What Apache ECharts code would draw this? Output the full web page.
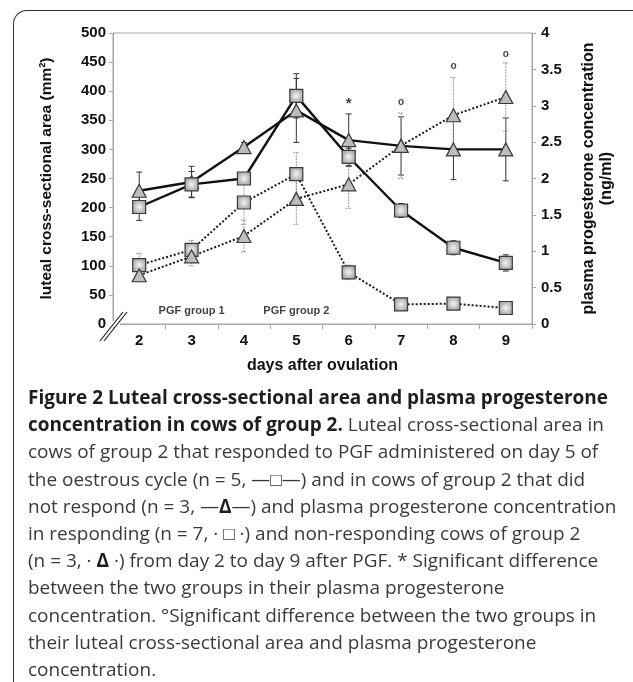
<!DOCTYPE html>
<html><head><meta charset="utf-8">
<script src="https://cdn.jsdelivr.net/npm/echarts@6.0.0/dist/echarts.min.js"></script>
<style>
html,body{margin:0;padding:0;background:#fff;width:633px;height:682px;overflow:hidden;position:relative;}
#frame{position:absolute;left:13px;top:10px;width:700px;height:690px;border-left:1.6px solid #333;border-top:1.6px solid #333;border-top-left-radius:14px;box-sizing:border-box;}
#chart{position:absolute;left:0;top:0;width:633px;height:390px;}
#cap{position:absolute;left:28px;top:384px;font-family:'Open Sans';font-size:17px;line-height:27.2px;color:#3a3a3a;white-space:nowrap;}
#cap b{color:#1e1e1e;font-weight:700;}
</style></head>
<body>
<div id="frame"></div>
<div id="chart"></div>
<div id="cap"><b>Figure 2 Luteal cross-sectional area and plasma progesterone</b><br>
<b>concentration in cows of group 2.</b> Luteal cross-sectional area in<br>
cows of group 2 that responded to PGF administered on day 5 of<br>
the oestrous cycle (n = 5, —□—) and in cows of group 2 that did<br>
<span id="ref">not respond (n = 3, —<b>Δ</b>—) and plasma progesterone concentration</span><br>
in responding (n = 7, · □ ·) and non-responding cows of group 2<br>
(n = 3, · <b>Δ</b> ·) from day 2 to day 9 after PGF. * Significant difference<br>
between the two groups in their plasma progesterone<br>
concentration. °Significant difference between the two groups in<br>
their luteal cross-sectional area and plasma progesterone<br>
concentration.</div>
<script>
// ---- data ----
const days = ['2', '3', '4', '5', '6', '7', '8', '9'];
const areaResp = [201, 240, 250, 392, 287, 195, 131, 105];
const areaRespErr = [23, 22, 8, 38, 15, 12, 12, 14];
const areaNonResp = [229, 244, 304, 367, 316, 306, 300, 300];
const areaNonRespErr = [32, 27, 8, 55, 45, 50, 52, 54];
const p4Resp = [0.81, 1.02, 1.67, 2.06, 0.71, 0.27, 0.28, 0.22];
const p4RespErr = [0.16, 0.13, 0.30, 0.30, 0.10, 0.03, 0.04, 0.03];
const p4NonResp = [0.67, 0.93, 1.21, 1.72, 1.92, 2.45, 2.87, 3.12];
const p4NonRespErr = [0.09, 0.13, 0.22, 0.35, 0.33, 0.45, 0.52, 0.47];
const leftTicks = {min: 0, max: 500, interval: 50};
const rightTicks = {min: 0, max: 4, interval: 0.5};
const sigDays = ['6', '7', '8', '9'];
const sigLevels = [378, 381, 443, 464];
const sigSymbols = ['*', 'o', 'o', 'o'];
const pgfDays = ['3', '5'];
const pgfLevels = [22, 22];
const pgfTexts = ['PGF group 1', 'PGF group 2'];

// ---- chart ----
const chart = echarts.init(document.getElementById('chart'));
const FONT = "'Liberation Sans', Arial, sans-serif";
const AX = '#a6a6a6';

function errSeries(vals, errs, yIdx, color, dashed) {
  return {
    type: 'custom', yAxisIndex: yIdx, z: 1, silent: true,
    encode: {x: 0, y: 1},
    data: vals.map((v, i) => [i, v, errs[i]]),
    renderItem: function (params, api) {
      const x = api.value(0), v = api.value(1), e = api.value(2);
      const t = api.coord([x, v + e]), b = api.coord([x, v - e]);
      const w = 3;
      const style = {stroke: color, lineWidth: 1, lineDash: dashed ? [2, 1] : null};
      return {type: 'group', children: [
        {type: 'line', shape: {x1: t[0], y1: t[1], x2: b[0], y2: b[1]}, style: style},
        {type: 'line', shape: {x1: t[0] - w, y1: t[1], x2: t[0] + w, y2: t[1]}, style: style},
        {type: 'line', shape: {x1: b[0] - w, y1: b[1], x2: b[0] + w, y2: b[1]}, style: style}
      ]};
    }
  };
}

const squareFill = {
  type: 'radial', x: 0.5, y: 0.5, r: 0.7,
  colorStops: [{offset: 0, color: '#f4f4f4'}, {offset: 1, color: '#8a8a8a'}]
};
const squareStyle = {color: squareFill, borderColor: '#3a3a3a', borderWidth: 1.2};
const triStyle = {color: '#bdbdbd', borderColor: '#3a3a3a', borderWidth: 1.2};

function lineSeries(vals, yIdx, symbol, dotted) {
  return {
    type: 'line', yAxisIndex: yIdx, z: 3, data: vals,
    symbol: symbol, symbolSize: symbol === 'rect' ? 13 : [14, 13],
    showAllSymbol: true,
    itemStyle: symbol === 'rect' ? squareStyle : triStyle,
    lineStyle: dotted ? {color: '#1a1a1a', width: 2, type: [2, 2]} : {color: '#111', width: 2.4},
    emphasis: {disabled: true}, animation: false
  };
}

const option = {
  animation: false,
  grid: {left: 113, right: 101, top: 33, bottom: 66, show: true, borderColor: AX, borderWidth: 1},
  xAxis: {
    type: 'category', data: days, boundaryGap: true,
    axisLine: {lineStyle: {color: AX, width: 1}},
    axisTick: {show: true, length: 5, lineStyle: {color: AX}},
    axisLabel: {color: '#111', fontFamily: FONT, fontWeight: 'bold', fontSize: 15, margin: 9},
    name: 'days after ovulation', nameLocation: 'middle', nameGap: 34,
    nameTextStyle: {color: '#111', fontFamily: FONT, fontWeight: 'bold', fontSize: 16}
  },
  yAxis: [{
    type: 'value', min: leftTicks.min, max: leftTicks.max, interval: leftTicks.interval,
    splitLine: {show: false},
    axisLine: {show: true, lineStyle: {color: AX}},
    axisTick: {show: true, length: 4, lineStyle: {color: AX}},
    axisLabel: {color: '#111', fontFamily: FONT, fontWeight: 'bold', fontSize: 15, margin: 7},
    name: 'luteal cross-sectional area (mm²)', nameLocation: 'middle', nameRotate: 90, nameGap: 58,
    nameTextStyle: {color: '#111', fontFamily: FONT, fontWeight: 'bold', fontSize: 15.5}
  }, {
    type: 'value', position: 'right', min: rightTicks.min, max: rightTicks.max, interval: rightTicks.interval,
    splitLine: {show: false},
    axisLine: {show: true, lineStyle: {color: AX}},
    axisTick: {show: true, length: 4, lineStyle: {color: AX}},
    axisLabel: {color: '#111', fontFamily: FONT, fontWeight: 'bold', fontSize: 15, margin: 9},
    name: 'plasma progesterone concentration\n(ng/ml)', nameLocation: 'middle', nameRotate: 90, nameGap: 48,
    nameTextStyle: {color: '#111', fontFamily: FONT, fontWeight: 'bold', fontSize: 16, lineHeight: 18}
  }],
  series: [
    errSeries(areaResp, areaRespErr, 0, '#333', false),
    errSeries(areaNonResp, areaNonRespErr, 0, '#333', false),
    errSeries(p4Resp, p4RespErr, 1, '#999', true),
    errSeries(p4NonResp, p4NonRespErr, 1, '#999', true),
    lineSeries(p4Resp, 1, 'rect', true),
    lineSeries(p4NonResp, 1, 'triangle', true),
    lineSeries(areaNonResp, 0, 'triangle', false),
    lineSeries(areaResp, 0, 'rect', false),
    {
      type: 'scatter', yAxisIndex: 0, symbolSize: 0, silent: true, z: 4,
      data: sigDays.map((d, i) => ({value: [d, sigLevels[i]], name: sigSymbols[i],
        label: {fontSize: sigSymbols[i] === '*' ? 15 : 10}})),
      label: {show: true, position: 'inside', formatter: p => p.name, color: '#111',
        fontFamily: FONT, fontWeight: 'bold', fontSize: 10}
    },
    {
      type: 'scatter', yAxisIndex: 0, symbolSize: 0, silent: true, z: 4,
      data: pgfDays.map((d, i) => ({value: [d, pgfLevels[i]], name: pgfTexts[i]})),
      label: {show: true, position: 'inside', formatter: p => p.name, color: '#111',
        fontFamily: FONT, fontWeight: 'bold', fontSize: 11}
    }
  ],
  graphic: [
    {type: 'rect', shape: {x: 108, y: 321, width: 12, height: 6}, style: {fill: '#fff'}, z: 100},
    {type: 'line', shape: {x1: 100, y1: 341, x2: 123, y2: 312}, style: {stroke: '#222', lineWidth: 1.2}, z: 101},
    {type: 'line', shape: {x1: 104, y1: 341, x2: 127, y2: 312}, style: {stroke: '#222', lineWidth: 1.2}, z: 101}
  ]
};
chart.setOption(option);

// fit caption font so the reference line spans its measured width
const cap = document.getElementById('cap');
const ref = document.getElementById('ref');
const w = ref.getBoundingClientRect().width;
cap.style.fontSize = (17 * 589 / w) + 'px';
</script>
</body></html>
